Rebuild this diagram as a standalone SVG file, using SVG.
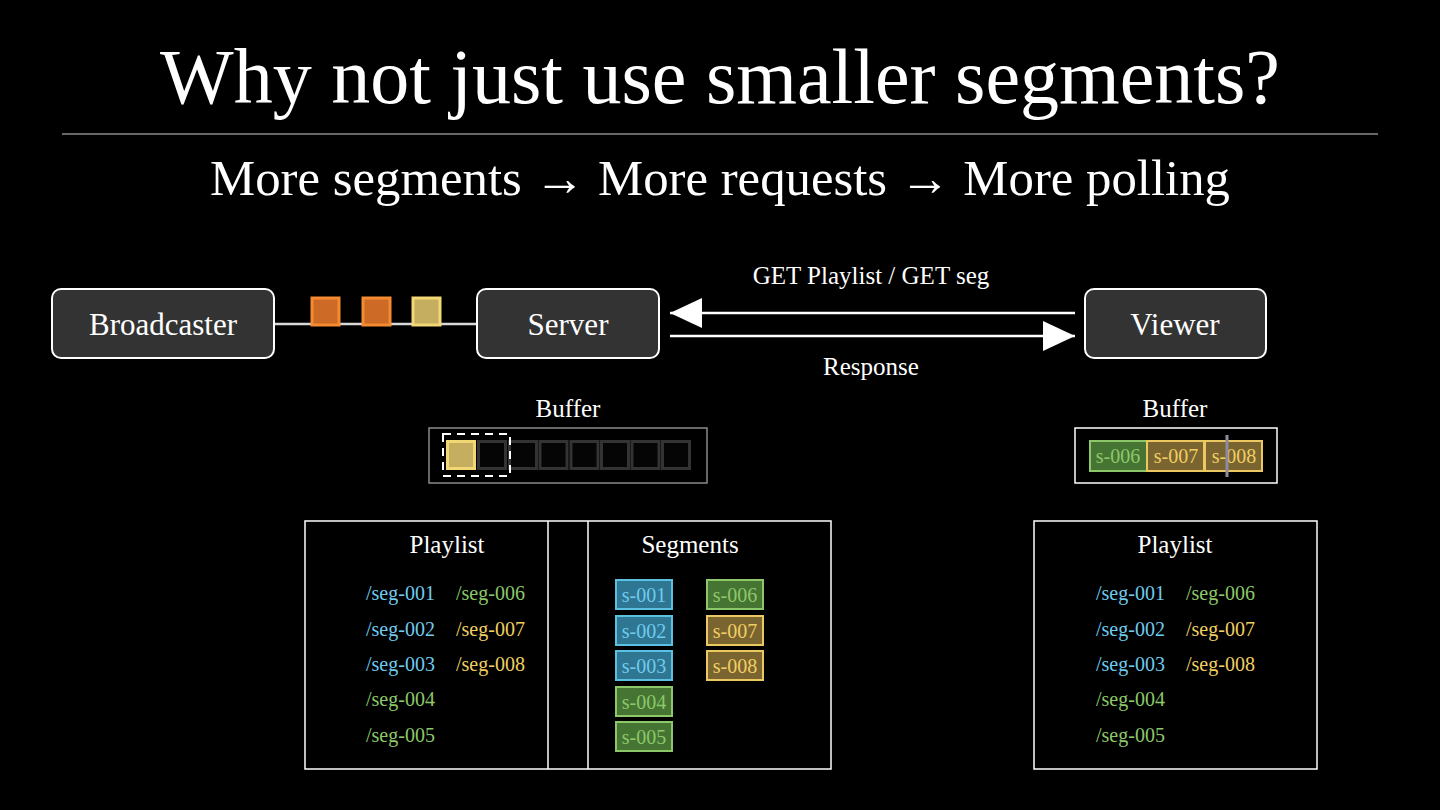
<svg xmlns="http://www.w3.org/2000/svg" width="1440" height="810" viewBox="0 0 1440 810">
<style>
text{font-family:"Liberation Serif","Times New Roman",serif;fill:#fff}
.node rect{fill:#333;stroke:#fff;stroke-width:2}
.nl{font-size:31px;text-anchor:middle}
.lbl{font-size:25px;text-anchor:middle}
.conn{stroke:#fff;stroke-width:2.5;fill:none}
.blue{fill:#2e7692;stroke:#5cc0e0;stroke-width:2}
.green{fill:#467432;stroke:#8cc86a;stroke-width:2}
.yel{fill:#7a6430;stroke:#ecc860;stroke-width:2}
.tb{fill:#6fcbee}
.tg{fill:#8cc86a}
.ty{fill:#f0cf62}
.ct{font-size:20px;text-anchor:middle}
.pl{font-size:20px}
.frame{fill:none;stroke:#fff;stroke-width:1.5}
.empty{fill:#050505;stroke:#333;stroke-width:3}
</style>
<defs>
<marker id="ah" markerUnits="userSpaceOnUse" markerWidth="34" markerHeight="30" refX="32" refY="15" orient="auto">
<path d="M0,0 L32,15 L0,30 z" fill="#fff"/>
</marker>
</defs>
<rect width="1440" height="810" fill="#000"/>
<text x="720" y="103" font-size="78" text-anchor="middle">Why not just use smaller segments?</text>
<line x1="62" y1="134" x2="1378" y2="134" stroke="#8a8a8a" stroke-width="1.5"/>
<text x="720" y="195" font-size="50" text-anchor="middle" textLength="1020" lengthAdjust="spacingAndGlyphs">More segments → More requests → More polling</text>

<g id="connectors">
<line x1="274" y1="324" x2="477" y2="324" stroke="#d8d8d8" stroke-width="2.5"/>
<line class="conn" x1="1075" y1="313" x2="670" y2="313" marker-end="url(#ah)"/>
<line class="conn" x1="670" y1="336" x2="1075" y2="336" marker-end="url(#ah)"/>
<text class="lbl" x="871" y="284">GET Playlist / GET seg</text>
<text class="lbl" x="871" y="375">Response</text>
</g>

<g id="packets">
<rect x="312" y="298" width="27" height="27" fill="#cc6a26" stroke="#f58a30" stroke-width="3"/>
<rect x="363" y="298" width="27" height="27" fill="#cc6a26" stroke="#f58a30" stroke-width="3"/>
<rect x="413" y="298" width="27" height="27" fill="#c6ae60" stroke="#f2d874" stroke-width="3"/>
</g>

<g id="broadcaster" class="node">
<rect x="52" y="289" width="222" height="69" rx="9"/>
<text class="nl" x="163" y="335">Broadcaster</text>
</g>
<g id="server" class="node">
<rect x="477" y="289" width="182" height="69" rx="9"/>
<text class="nl" x="568" y="335">Server</text>
</g>
<g id="viewer" class="node">
<rect x="1085" y="289" width="181" height="69" rx="9"/>
<text class="nl" x="1175" y="335">Viewer</text>
</g>

<g id="server-buffer">
<text class="lbl" x="568" y="417">Buffer</text>
<rect x="429" y="428" width="278" height="55" fill="none" stroke="#8a8a8a" stroke-width="1.5"/>
<rect x="447.5" y="441.5" width="27" height="27" fill="#c6ae60" stroke="#f2d874" stroke-width="3"/>
<rect class="empty" x="478.5" y="441.5" width="27" height="27"/>
<rect class="empty" x="509.5" y="441.5" width="27" height="27"/>
<rect class="empty" x="540" y="441.5" width="27" height="27"/>
<rect class="empty" x="571" y="441.5" width="27" height="27"/>
<rect class="empty" x="601.5" y="441.5" width="27" height="27"/>
<rect class="empty" x="632" y="441.5" width="27" height="27"/>
<rect class="empty" x="662.5" y="441.5" width="27" height="27"/>
<rect x="443" y="434" width="67" height="42" fill="none" stroke="#fff" stroke-width="2" stroke-dasharray="8,6"/>
</g>

<g id="viewer-buffer">
<text class="lbl" x="1175" y="417">Buffer</text>
<rect x="1075" y="428" width="202" height="55" fill="none" stroke="#fff" stroke-width="1.5"/>
<rect class="green" x="1090" y="441" width="57" height="30"/>
<rect class="yel" x="1147" y="441" width="57" height="30"/>
<rect class="yel" x="1205" y="441" width="57" height="30"/>
<text class="ct tg" x="1118" y="463">s-006</text>
<text class="ct ty" x="1176" y="463">s-007</text>
<text class="ct ty" x="1234" y="463">s-008</text>
<line x1="1227" y1="435" x2="1227" y2="477" stroke="#8c8ca0" stroke-width="3"/>
</g>

<g id="server-storage">
<rect class="frame" x="305" y="521" width="526" height="248"/>
<line x1="548" y1="521" x2="548" y2="769" stroke="#fff" stroke-width="1.5"/>
<line x1="588" y1="521" x2="588" y2="769" stroke="#fff" stroke-width="1.5"/>
<text class="lbl" x="447" y="553">Playlist</text>
<text class="lbl" x="690" y="553">Segments</text>
<text class="pl tb" x="366" y="600">/seg-001</text>
<text class="pl tb" x="366" y="636">/seg-002</text>
<text class="pl tb" x="366" y="671">/seg-003</text>
<text class="pl tg" x="366" y="706">/seg-004</text>
<text class="pl tg" x="366" y="742">/seg-005</text>
<text class="pl tg" x="456" y="600">/seg-006</text>
<text class="pl ty" x="456" y="636">/seg-007</text>
<text class="pl ty" x="456" y="671">/seg-008</text>
<rect class="blue" x="616" y="580" width="56" height="29"/>
<rect class="blue" x="616" y="616" width="56" height="29"/>
<rect class="blue" x="616" y="651" width="56" height="29"/>
<rect class="green" x="616" y="687" width="56" height="29"/>
<rect class="green" x="616" y="722" width="56" height="29"/>
<rect class="green" x="707" y="580" width="56" height="29"/>
<rect class="yel" x="707" y="616" width="56" height="29"/>
<rect class="yel" x="707" y="651" width="56" height="29"/>
<text class="ct tb" x="644" y="602">s-001</text>
<text class="ct tb" x="644" y="638">s-002</text>
<text class="ct tb" x="644" y="673">s-003</text>
<text class="ct tg" x="644" y="709">s-004</text>
<text class="ct tg" x="644" y="744">s-005</text>
<text class="ct tg" x="735" y="602">s-006</text>
<text class="ct ty" x="735" y="638">s-007</text>
<text class="ct ty" x="735" y="673">s-008</text>
</g>

<g id="viewer-playlist">
<rect class="frame" x="1034" y="521" width="283" height="248"/>
<text class="lbl" x="1175" y="553">Playlist</text>
<text class="pl tb" x="1096" y="600">/seg-001</text>
<text class="pl tb" x="1096" y="636">/seg-002</text>
<text class="pl tb" x="1096" y="671">/seg-003</text>
<text class="pl tg" x="1096" y="706">/seg-004</text>
<text class="pl tg" x="1096" y="742">/seg-005</text>
<text class="pl tg" x="1186" y="600">/seg-006</text>
<text class="pl ty" x="1186" y="636">/seg-007</text>
<text class="pl ty" x="1186" y="671">/seg-008</text>
</g>
</svg>
